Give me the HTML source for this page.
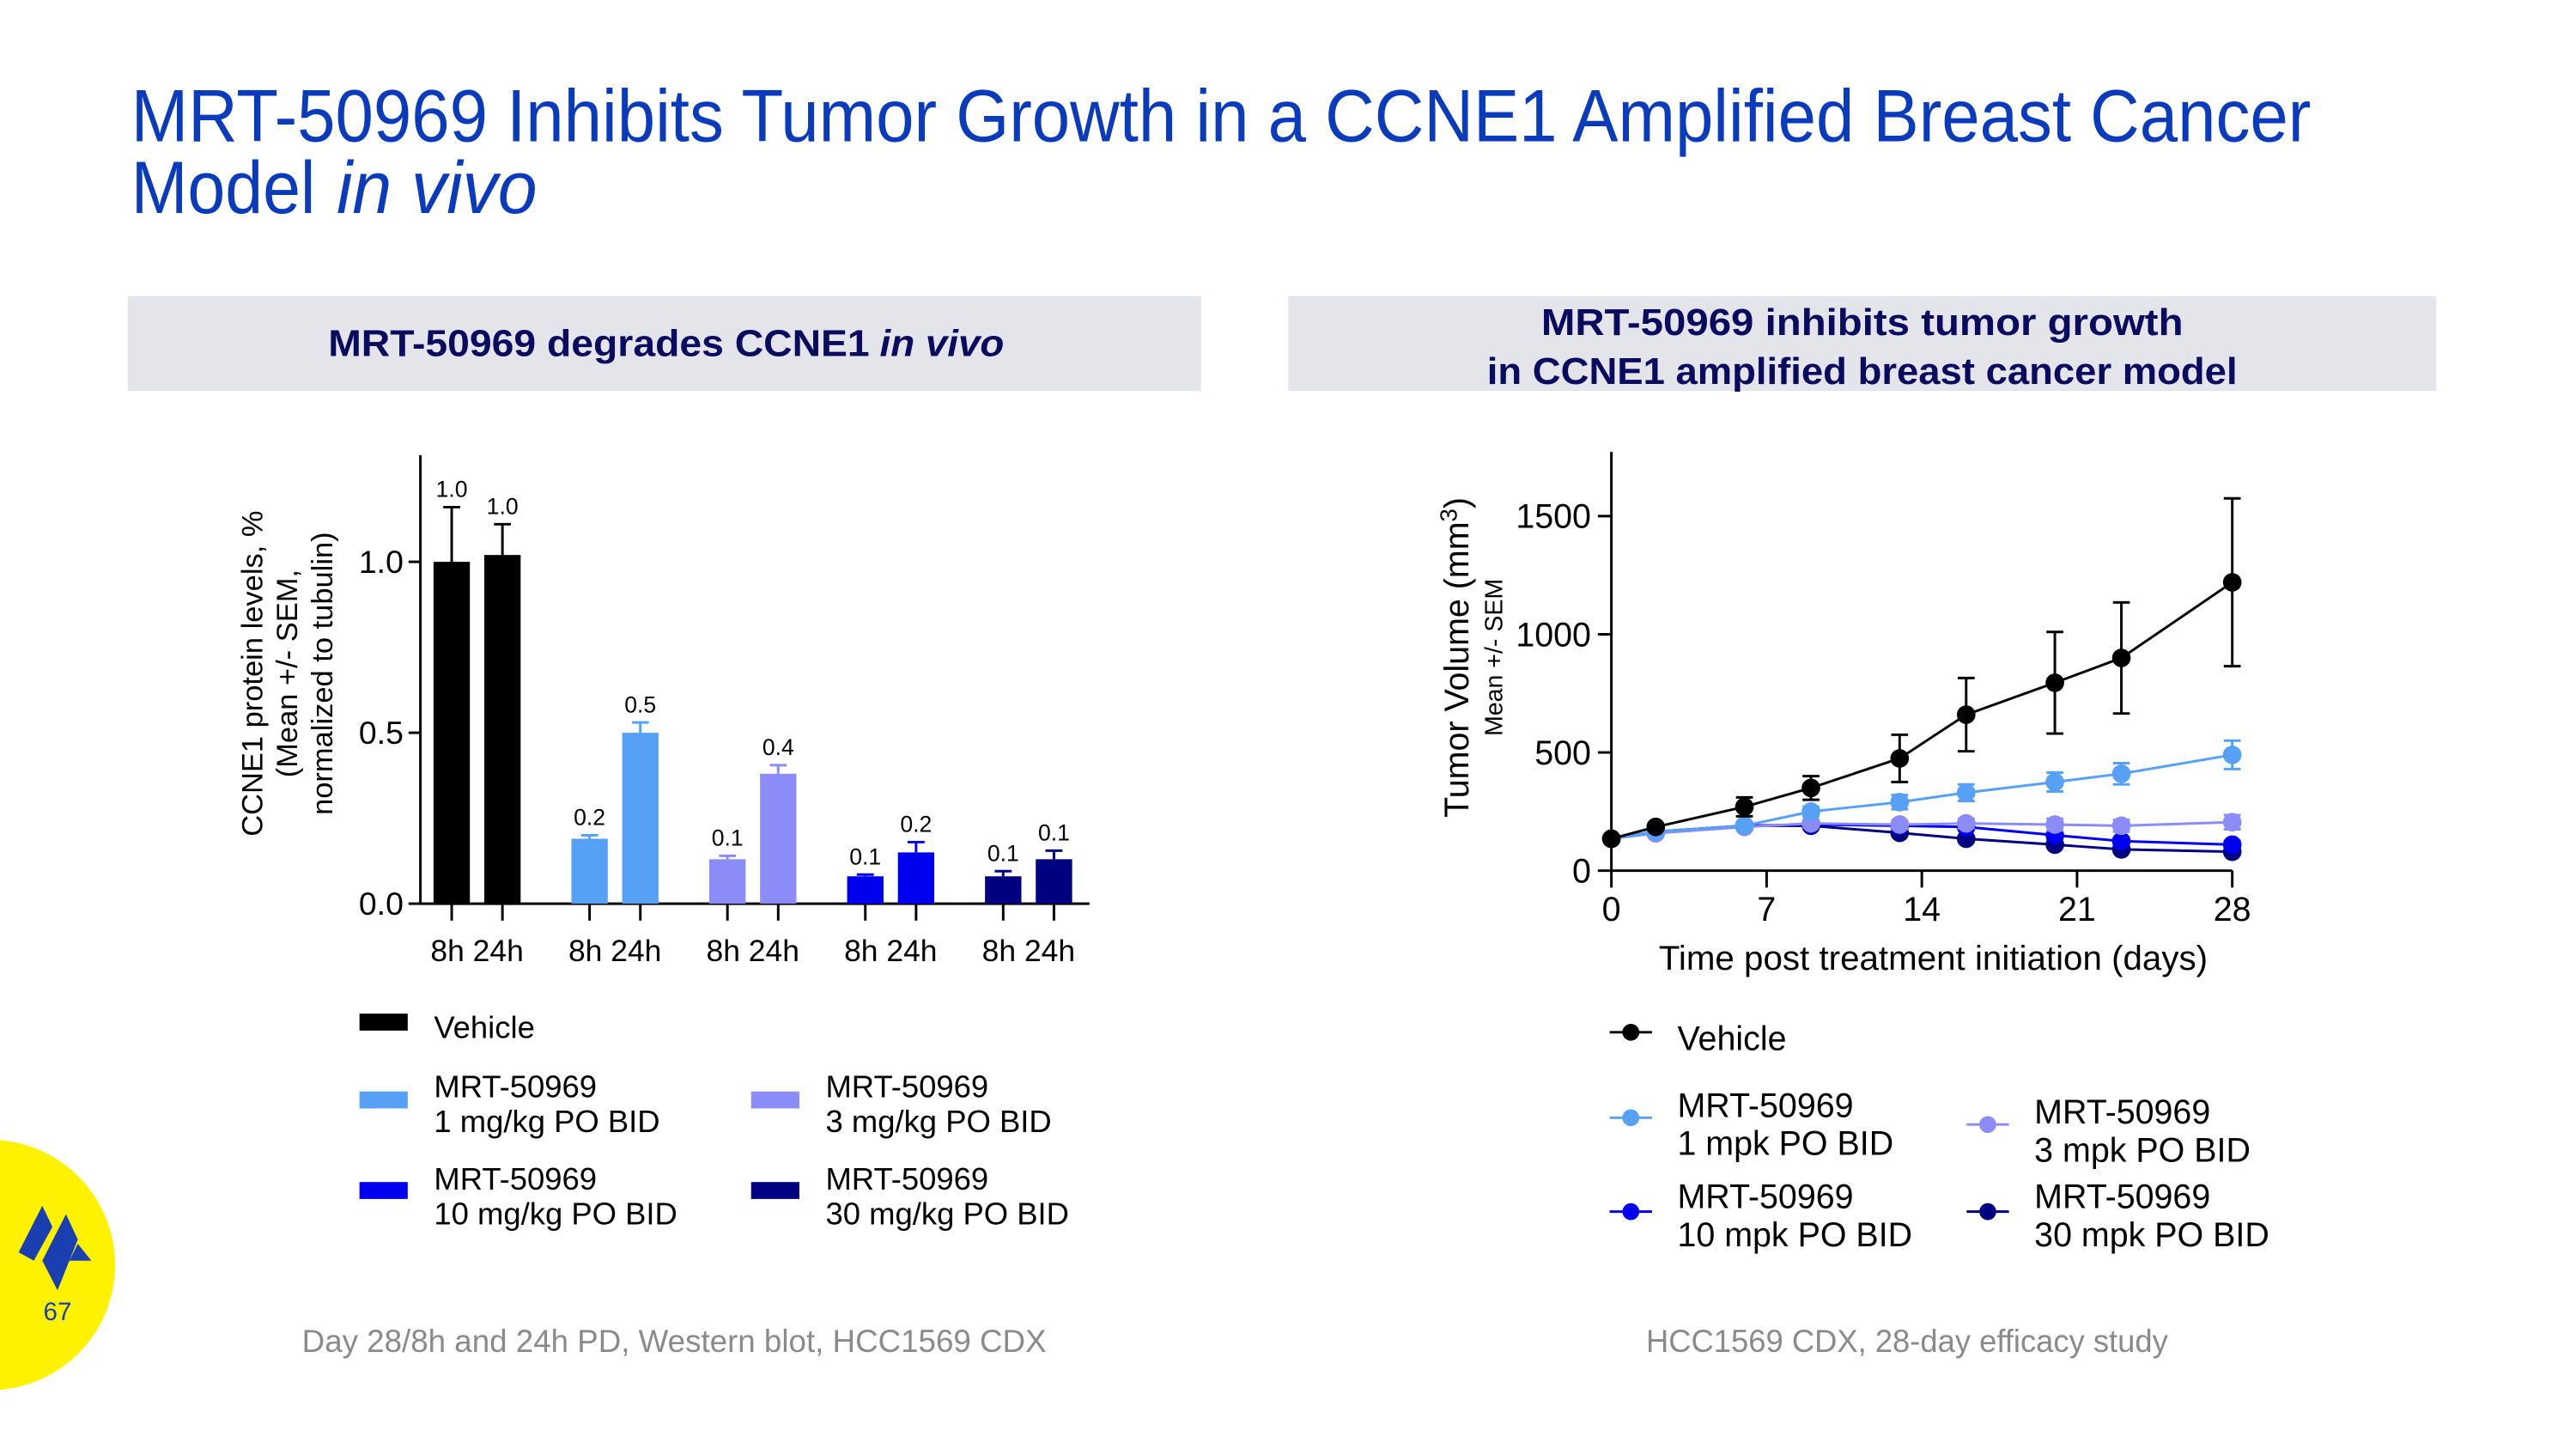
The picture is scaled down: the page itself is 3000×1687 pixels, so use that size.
<!DOCTYPE html>
<html><head><meta charset="utf-8"><style>
html,body{margin:0;padding:0;background:#fff;width:3000px;height:1687px;overflow:hidden}
svg{display:block;font-family:"Liberation Sans",sans-serif}
</style></head><body>
<svg id="s" width="3000" height="1687" viewBox="0 0 3000 1687">
<g transform="scale(0.9851)">
<text x="155" y="167" font-size="88" fill="#0b3bbd" textLength="2577" lengthAdjust="spacingAndGlyphs">MRT-50969 Inhibits Tumor Growth in a CCNE1 Amplified Breast Cancer</text>
<text x="155" y="252" font-size="88" fill="#0b3bbd"><tspan textLength="218" lengthAdjust="spacingAndGlyphs">Model</tspan><tspan x="398" font-style="italic" textLength="237" lengthAdjust="spacingAndGlyphs">in vivo</tspan></text>
<rect x="151" y="350" width="1269" height="112" fill="#e4e5ea"/>
<text x="388" y="421" font-size="44" font-weight="bold" fill="#0a0a5e"><tspan textLength="640" lengthAdjust="spacingAndGlyphs">MRT-50969 degrades CCNE1</tspan><tspan x="1040" font-style="italic" textLength="147" lengthAdjust="spacingAndGlyphs">in vivo</tspan></text>
<rect x="1523" y="350" width="1357" height="112" fill="#e4e5ea"/>
<text x="1822" y="396" font-size="44" font-weight="bold" fill="#0a0a5e" textLength="759" lengthAdjust="spacingAndGlyphs">MRT-50969 inhibits tumor growth</text>
<text x="1758" y="454" font-size="44" font-weight="bold" fill="#0a0a5e" textLength="887" lengthAdjust="spacingAndGlyphs">in CCNE1 amplified breast cancer model</text>

<g id="bar"></g>
<g id="line"></g>

<text x="357" y="1598" font-size="38" fill="#8a8a8a" textLength="880" lengthAdjust="spacingAndGlyphs">Day 28/8h and 24h PD, Western blot, HCC1569 CDX</text>
<text x="1946" y="1598" font-size="38" fill="#8a8a8a" textLength="617" lengthAdjust="spacingAndGlyphs">HCC1569 CDX, 28-day efficacy study</text>

<circle cx="-12" cy="1495" r="148" fill="#fff200"/>
<g fill="#1a3fb0">
<polygon points="22,1480 50,1425 62,1450 40,1490"/>
<polygon points="50,1490 78,1435 92,1465 68,1525"/>
<polygon points="92,1470 108,1490 82,1490"/>
</g>
<text x="68" y="1560" font-size="30" fill="#1a3fb0" text-anchor="middle">67</text>
</g>
</svg>
<script>
// ---- Bar chart data ----
const barGroups = ["Vehicle","1 mg/kg","3 mg/kg","10 mg/kg","30 mg/kg"];
const barTimes = ["8h","24h"];
const barValues8h = [1.0, 0.19, 0.13, 0.08, 0.08];
const barValues24h = [1.02, 0.50, 0.38, 0.15, 0.13];
const barErr8h = [0.16, 0.01, 0.01, 0.005, 0.015];
const barErr24h = [0.09, 0.03, 0.025, 0.03, 0.025];
const barLabels8h = ["1.0","0.2","0.1","0.1","0.1"];
const barLabels24h = ["1.0","0.5","0.4","0.2","0.1"];
const barTicks = [0, 0.5, 1.0];
const barTickLabels = ["0.0","0.5","1.0"];
const barColors = ["#000000","#56a0f5","#8c8cf8","#0000f0","#000080"];

// ---- Line chart data ----
const days = [0,2,6,9,13,16,20,23,28];
const seriesNames = ["Vehicle","1 mpk","3 mpk","10 mpk","30 mpk"];
const vehicle = [135,185,270,350,475,660,795,900,1220];
const vehicleErr = [0,12,40,50,100,155,215,235,355];
const mpk1 = [135,165,190,250,290,330,375,410,490];
const mpk1Err = [0,10,15,20,30,35,40,45,60];
const mpk3 = [135,158,185,200,195,200,195,190,205];
const mpk3Err = [0,8,12,15,18,20,25,25,30];
const mpk10 = [135,165,190,195,190,185,150,125,110];
const mpk10Err = [0,8,10,10,12,12,15,15,15];
const mpk30 = [135,165,190,190,160,135,110,90,80];
const mpk30Err = [0,8,10,10,12,10,10,10,10];
const lineTicksY = [0,500,1000,1500];
const lineTicksX = [0,7,14,21,28];

const NS="http://www.w3.org/2000/svg";
function mk(parent,tag,attrs,text){const e=document.createElementNS(NS,tag);for(const k in attrs)e.setAttribute(k,attrs[k]);if(text!==undefined)e.textContent=text;parent.appendChild(e);return e;}

// ===== Bar chart =====
(function(){
const g=document.getElementById('bar');
const y0=1068, pxPer=404;
const yS=v=>y0-v*pxPer;
const xAxis=497, x0=534, grpStep=163, inStep=60, bw=43;
let e=mk(g,'line',{x1:xAxis,y1:538,x2:xAxis,y2:y0,stroke:'#000','stroke-width':3});


e=mk(g,'line',{x1:xAxis,y1:y0,x2:1288,y2:y0,stroke:'#000','stroke-width':3});


barTicks.forEach((t,i)=>{
  mk(g,'line',{x1:xAxis-14,y1:yS(t),x2:xAxis,y2:yS(t),stroke:'#000','stroke-width':3});
  const l=mk(g,'text',{x:xAxis-20,y:yS(t)+13,'font-size':38,'text-anchor':'end'},barTickLabels[i]);
  
  
});
const ttl=mk(g,'text',{transform:'translate(0,796) rotate(-90)','font-size':35,'text-anchor':'middle'});


[["CCNE1 protein levels, %",310],["(Mean +/- SEM,",351],["normalized to tubulin)",393]].forEach(a=>mk(ttl,'tspan',{x:0,y:a[1]},a[0]));
barGroups.forEach((grp,i)=>{
  [[barValues8h,barErr8h,barLabels8h],[barValues24h,barErr24h,barLabels24h]].forEach((s,j)=>{
    const cx=x0+i*grpStep+j*inStep, v=s[0][i], er=s[1][i];
    const r=mk(g,'rect',{x:cx-bw/2,y:yS(v),width:bw,height:y0-yS(v),fill:barColors[i]});
    
    
    mk(g,'line',{x1:cx,y1:yS(v),x2:cx,y2:yS(v+er),stroke:barColors[i],'stroke-width':3});
    mk(g,'line',{x1:cx-10,y1:yS(v+er),x2:cx+10,y2:yS(v+er),stroke:barColors[i],'stroke-width':3});
    const vl=mk(g,'text',{x:cx,y:yS(v+er)-12,'font-size':27,'text-anchor':'middle'},s[2][i]);
    
    
    mk(g,'line',{x1:cx,y1:y0,x2:cx,y2:y0+20,stroke:'#000','stroke-width':3});
  });
  const xl=mk(g,'text',{x:x0+i*grpStep+inStep/2,y:1136,'font-size':36,'text-anchor':'middle'},"8h 24h");
  
  
});
const leg=[[425,1198,"#000000",["Vehicle"],1227],[425,1290,barColors[1],["MRT-50969","1 mg/kg PO BID"],1297],[888,1290,barColors[2],["MRT-50969","3 mg/kg PO BID"],1297],[425,1397,barColors[3],["MRT-50969","10 mg/kg PO BID"],1406],[888,1397,barColors[4],["MRT-50969","30 mg/kg PO BID"],1406]];
leg.forEach(L=>{
  const lg=mk(g,'g',{});
  
  
  mk(lg,'rect',{x:L[0],y:L[1],width:57,height:20,fill:L[2]});
  L[3].forEach((t,k)=>mk(lg,'text',{x:L[0]+88,y:L[4]+k*41,'font-size':37},t));
});
})();

// ===== Line chart =====
(function(){
const g=document.getElementById('line');
const xL=1905, y0=1029;
const xS=d=>xL+d*(734/28);
const yS=v=>y0-v*(419/1500);
let e=mk(g,'line',{x1:xL,y1:534,x2:xL,y2:y0,stroke:'#000','stroke-width':3});


e=mk(g,'line',{x1:xL,y1:y0,x2:xS(28),y2:y0,stroke:'#000','stroke-width':3});


lineTicksY.forEach(t=>{
  mk(g,'line',{x1:xL-16,y1:yS(t),x2:xL,y2:yS(t),stroke:'#000','stroke-width':3});
  const l=mk(g,'text',{x:xL-24,y:yS(t)+14,'font-size':40,'text-anchor':'end'},String(t));
  
  
});
lineTicksX.forEach(t=>{
  mk(g,'line',{x1:xS(t),y1:y0,x2:xS(t),y2:y0+20,stroke:'#000','stroke-width':3});
  const l=mk(g,'text',{x:xS(t),y:1088,'font-size':40,'text-anchor':'middle'},String(t));
  
  
});
const xt=mk(g,'text',{x:1961,y:1146,'font-size':40,textLength:649,lengthAdjust:'spacingAndGlyphs'},"Time post treatment initiation (days)");


const yt=mk(g,'text',{transform:'translate(1736,777) rotate(-90)','font-size':40,'text-anchor':'middle'});


yt.innerHTML='Tumor Volume (mm<tspan dy="-14" font-size="28">3</tspan><tspan dy="14">)</tspan>';
const ys=mk(g,'text',{transform:'translate(1776,777) rotate(-90)','font-size':29,'text-anchor':'middle'},"Mean +/- SEM");


const S=[[mpk30,mpk30Err,"#000080"],[mpk10,mpk10Err,"#0000f0"],[mpk3,mpk3Err,"#8c8cf8"],[mpk1,mpk1Err,"#56a0f5"],[vehicle,vehicleErr,"#000000"]];
const names=["30 mpk","10 mpk","3 mpk","1 mpk","Vehicle"];
S.forEach((s,si)=>{
  const sg=mk(g,'g',{});
  
  
  mk(sg,'polyline',{points:days.map((d,i)=>xS(d)+','+yS(s[0][i])).join(' '),fill:'none',stroke:s[2],'stroke-width':3});
  days.forEach((d,i)=>{
    const er=s[1][i];
    if(er>0){
      mk(sg,'line',{x1:xS(d),y1:yS(s[0][i]-er),x2:xS(d),y2:yS(s[0][i]+er),stroke:s[2],'stroke-width':3});
      mk(sg,'line',{x1:xS(d)-10,y1:yS(s[0][i]+er),x2:xS(d)+10,y2:yS(s[0][i]+er),stroke:s[2],'stroke-width':3});
      mk(sg,'line',{x1:xS(d)-10,y1:yS(s[0][i]-er),x2:xS(d)+10,y2:yS(s[0][i]-er),stroke:s[2],'stroke-width':3});
    }
    const p=mk(sg,'circle',{cx:xS(d),cy:yS(s[0][i]),r:11,fill:s[2]});
    
    
  });
});
const leg=[[1928,1220,"#000",["Vehicle"],1241],[1928,1321,"#56a0f5",["MRT-50969","1 mpk PO BID"],1320],[2350,1329,"#8c8cf8",["MRT-50969","3 mpk PO BID"],1328],[1928,1432,"#0000f0",["MRT-50969","10 mpk PO BID"],1428],[2350,1432,"#000080",["MRT-50969","30 mpk PO BID"],1428]];
leg.forEach(L=>{
  const lg=mk(g,'g',{});
  
  
  mk(lg,'line',{x1:L[0]-25,y1:L[1],x2:L[0]+25,y2:L[1],stroke:L[2],'stroke-width':3});
  mk(lg,'circle',{cx:L[0],cy:L[1],r:10,fill:L[2]});
  L[3].forEach((t,k)=>mk(lg,'text',{x:L[0]+55,y:L[4]+k*45,'font-size':40},t));
});
})();
</script>
</body></html>
